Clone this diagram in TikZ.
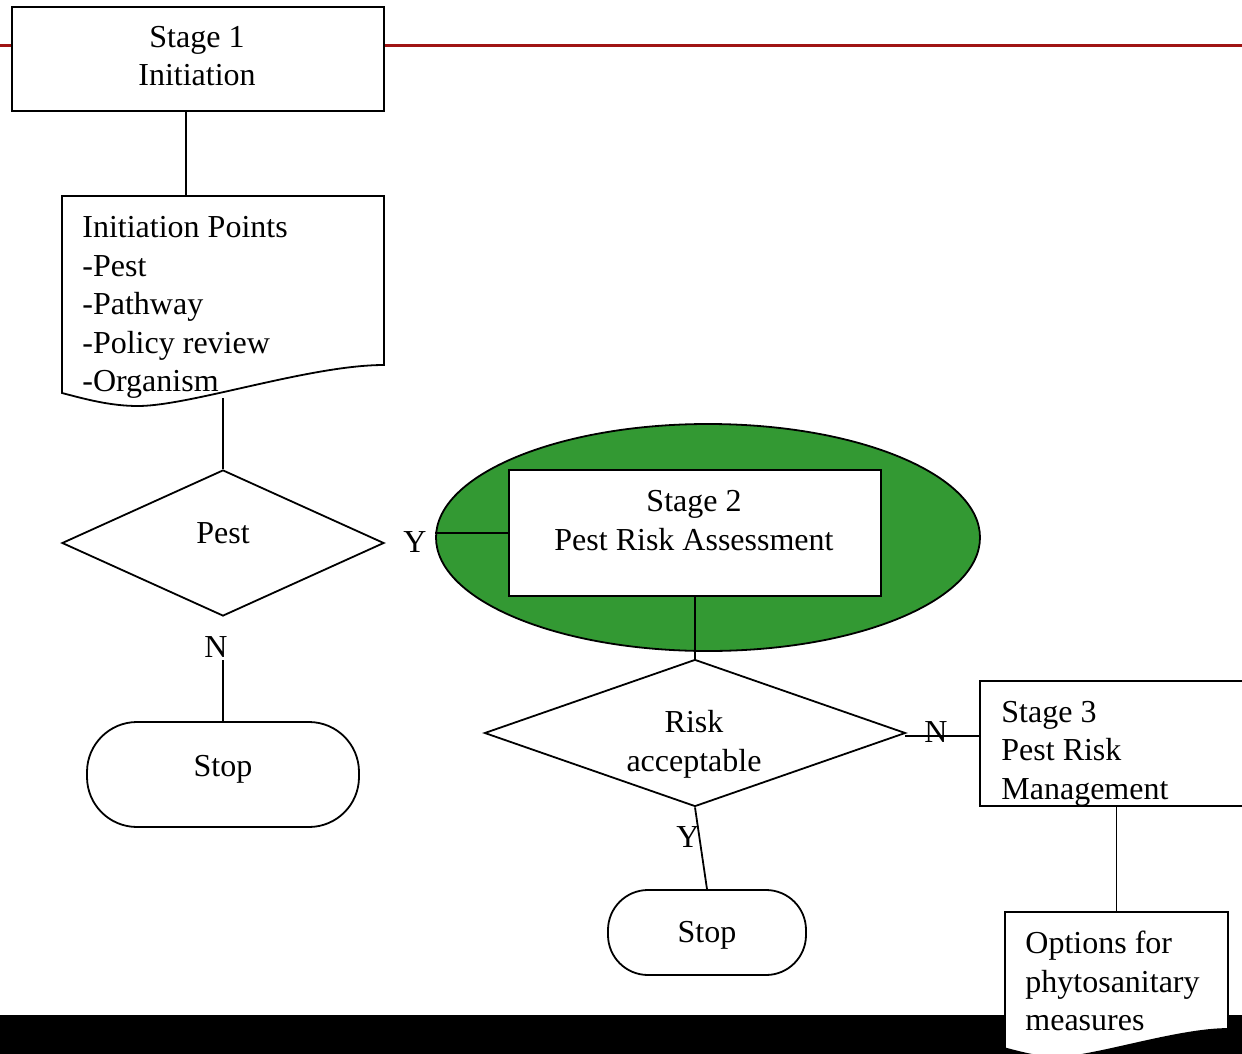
\documentclass[tikz,border=0pt]{standalone}
\usepackage{fontspec}
\setmainfont{Liberation Serif}
\usetikzlibrary{shapes.geometric}
\pgfdeclarelayer{background}
\pgfsetlayers{background,main}
\definecolor{bandred}{RGB}{160,20,20}
\definecolor{pragreen}{RGB}{51,153,51}
\tikzset{
  fnt/.style={font=\fontsize{16}{19.25}\selectfont},
  outline/.style={draw=black,line width=0.9pt,fill=white},
  box/.style={outline,rectangle,inner sep=0pt},
  ghost/.style={rectangle,inner sep=0pt,draw=none},
  dec/.style={outline,diamond,inner sep=0pt},
  term/.style={outline,rectangle,inner sep=0pt},
  conn/.style={draw=black,line width=0.9pt},
  txt/.style={fnt,inner sep=0pt,anchor=base},
  txtl/.style={fnt,inner sep=0pt,anchor=base west},
}
\begin{document}
\begin{tikzpicture}[x=0.5pt,y=-0.5pt]
\useasboundingbox (0,0) rectangle (1242,1054);

% Stage 1
\node[box,minimum width=186pt,minimum height=52pt] (s1) at (198,59) {};
\node[txt] (t1a) at (197,48) {Stage 1};
\node[txt] (t1b) at (197,86) {Initiation};

% Initiation points (document shape)
\node[ghost,minimum width=161pt,minimum height=101pt] (doc1) at (223,297) {};
\path[outline] (62,196) -- (384,196) -- (384,365)
  .. controls (310,365) and (190,406) .. (138,406)
  .. controls (110,406) and (85,399) .. (62,393) -- cycle;
\node[txtl] (d1a) at (82,237) {Initiation Points};
\node[txtl] (d1b) at (82,276) {-Pest};
\node[txtl] (d1c) at (82,314) {-Pathway};
\node[txtl] (d1d) at (82,353) {-Policy review};
\node[txtl] (d1e) at (82,391) {-Organism};

% Pest decision
\node[dec,minimum width=161pt,minimum height=73pt] (pest) at (223,543) {};
\node[txt] (tpest) at (223,543) {Pest};
\node[txt] (y1) at (415,552) {Y};
\node[txt] (n1) at (216,657) {N};
\coordinate (n1b) at (223,660);

% Stop 1
\node[term,rounded corners=25pt,minimum width=136pt,minimum height=52.5pt] (stop1) at (223,774.5) {};
\node[txt] (tstop1) at (223,776) {Stop};

% Stage 2 ellipse and box
\node[ellipse,draw=black,line width=0.9pt,fill=pragreen,inner sep=0pt,minimum width=272pt,minimum height=113.5pt] (ell) at (708,537.5) {};
\node[box,minimum width=186pt,minimum height=63pt] (s2) at (695,533) {};
\node[txt] (t2a) at (694,511) {Stage 2};
\node[txt] (t2b) at (694,550) {Pest Risk Assessment};
\draw[conn] (s2.west -| ell.west) -- (s2.west);

% Risk acceptable decision
\node[dec,minimum width=210.5pt,minimum height=73.5pt] (risk) at (695,733) {};
\node[txt] (tra) at (694,732) {Risk};
\node[txt] (trb) at (694,771) {acceptable};
\draw[conn] (s2.south) -- (risk.north);

% Stop 2
\node[term,rounded corners=20pt,minimum width=99pt,minimum height=42.5pt] (stop2) at (707,932.5) {};
\node[txt] (tstop2) at (707,942) {Stop};

% Stage 3
\node[box,minimum width=145pt,minimum height=62.5pt] (s3) at (1125,743.5) {};
\node[txtl] (t3a) at (1001,722) {Stage 3};
\node[txtl] (t3b) at (1001,760) {Pest Risk};
\node[txtl] (t3c) at (1001,799) {Management};

% Options (document shape)
\node[ghost,minimum width=111.5pt,minimum height=71pt] (opt) at (1116.5,983) {};
\path[outline] (1005,912) -- (1228,912) -- (1228,1029)
  .. controls (1176.7,1029) and (1093.6,1057.4) .. (1057.6,1057.4)
  .. controls (1038.2,1057.4) and (1020.9,1052.6) .. (1005,1048.4) -- cycle;
\node[txtl] (toa) at (1025,953) {Options for};
\node[txtl] (tob) at (1025,992) {phytosanitary};
\node[txtl] (toc) at (1025,1030) {measures};

% connectors on top
\coordinate (r3) at (905,736);
\draw[conn] (r3) -- (r3 -| s3.west);
\node[txt] (n2) at (936,742) {N};
\draw[conn] (risk.south) -- (stop2.north);
\node[txt] (y2) at (688,847) {Y};
\draw[conn] (opt.north) -- (opt.north |- s3.south);

\begin{pgfonlayer}{background}
  \draw[bandred,line width=1.5pt] (0,45.5) -- (1242,45.5);
  \fill[black] (0,1015) rectangle (1242,1054);
  \coordinate (c186) at (186,0);
  \draw[conn] (s1.south -| c186) -- (doc1.north -| c186);
  \draw[conn] (doc1.south) -- (pest.north);
  \draw[conn] (n1b) -- (stop1.north);
\end{pgfonlayer}
\end{tikzpicture}
\end{document}
